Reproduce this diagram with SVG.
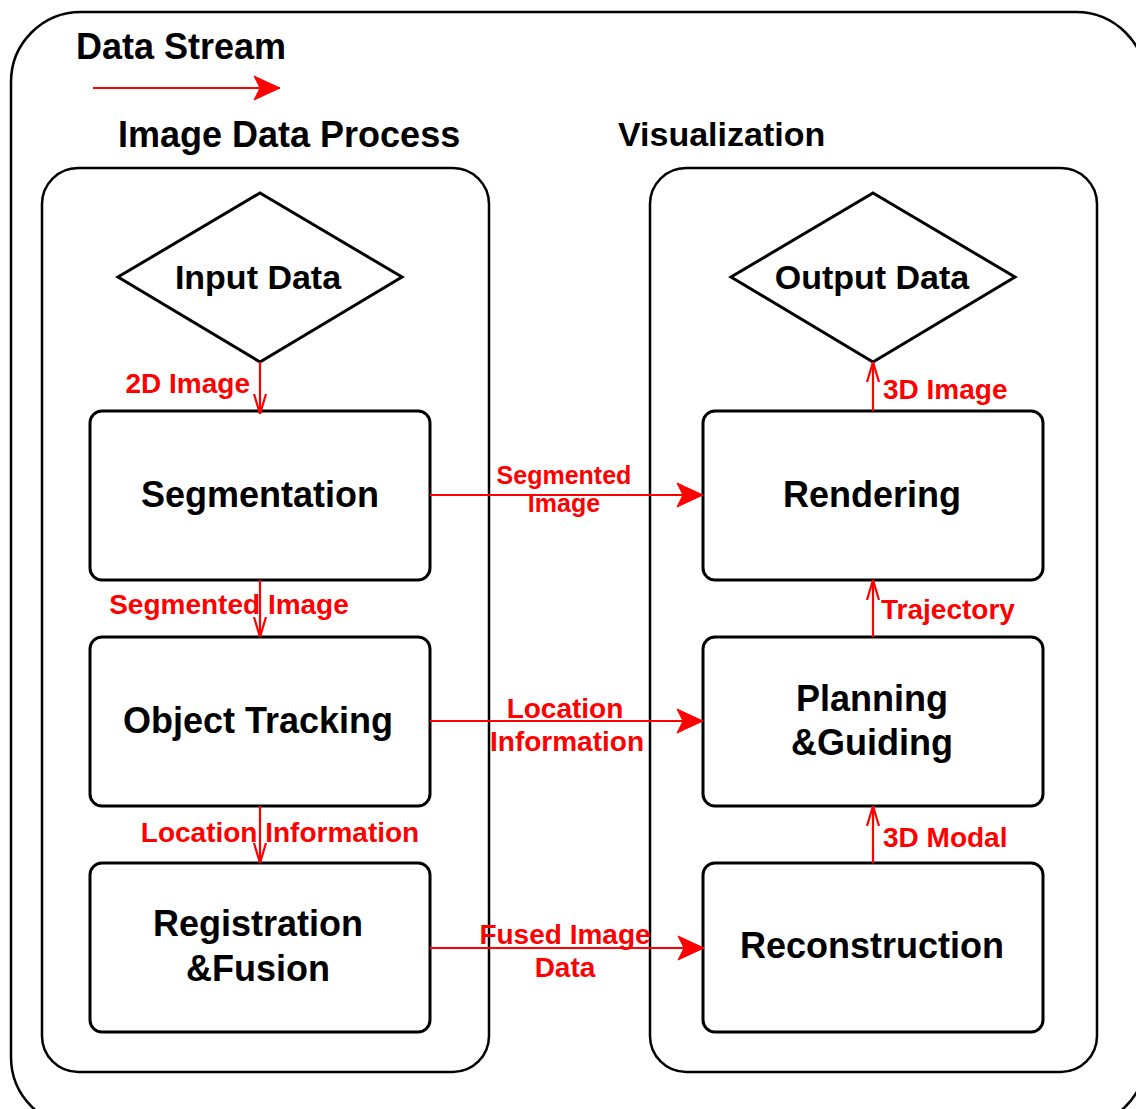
<svg xmlns="http://www.w3.org/2000/svg" width="1136" height="1109" viewBox="0 0 1136 1109">
<defs>
<style>
.box{fill:#fff;stroke:#000;stroke-width:3}
.panel{fill:none;stroke:#000;stroke-width:2.5}
.t{font-family:"Liberation Sans",Arial,Helvetica,sans-serif;font-weight:bold;fill:#000}
.n{font-size:36px;text-anchor:middle}
.d{font-size:34px;text-anchor:middle}
.h{font-size:36px}
.r{font-family:"Liberation Sans",Arial,Helvetica,sans-serif;font-weight:bold;fill:#ff0000;font-size:28px}
.c{text-anchor:middle}
.e{stroke:#ff0000;stroke-width:2.2;fill:none}
</style>
<marker id="open" markerUnits="userSpaceOnUse" markerWidth="20" markerHeight="24" viewBox="0 0 20 24" refX="20" refY="12" orient="auto">
<path d="M0,6 L20,12 L0,18" fill="none" stroke="#ff0000" stroke-width="2.2"/>
</marker>
<marker id="fill" markerUnits="userSpaceOnUse" markerWidth="28" markerHeight="26" viewBox="0 0 28 26" refX="27" refY="13" orient="auto">
<path d="M27,13 L1,1 L7,13 L1,25 Z" fill="#ff0000" stroke="#ff0000" stroke-width="1"/>
</marker>
</defs>
<rect width="1136" height="1109" fill="#fff"/>
<g id="frame">
<rect class="panel" x="11" y="12" width="1135" height="1115" rx="70"/>
</g>
<g id="legend">
<text class="t h" x="76" y="59">Data Stream</text>
<line class="e" x1="93" y1="88" x2="280" y2="88" marker-end="url(#fill)"/>
</g>
<g id="image-data-process">
<text class="t h" x="118" y="147">Image Data Process</text>
<rect class="panel" x="42" y="168" width="447" height="904" rx="36"/>
</g>
<g id="visualization">
<text class="t h" x="618" y="146" style="font-size:34px">Visualization</text>
<rect class="panel" x="650" y="168" width="447" height="904" rx="36"/>
</g>
<g id="input-data">
<polygon class="box" points="260,193 402,277 260,362 118,277"/>
<text class="t d" x="258" y="289">Input Data</text>
</g>
<g id="segmentation">
<rect class="box" x="90" y="411" width="340" height="169" rx="12"/>
<text class="t n" x="260" y="507">Segmentation</text>
</g>
<g id="object-tracking">
<rect class="box" x="90" y="637" width="340" height="169" rx="12"/>
<text class="t n" x="258" y="733">Object Tracking</text>
</g>
<g id="registration-fusion">
<rect class="box" x="90" y="863" width="340" height="169" rx="12"/>
<text class="t n" x="258" y="936">Registration</text>
<text class="t n" x="258" y="981">&amp;Fusion</text>
</g>
<g id="output-data">
<polygon class="box" points="873,193 1015,277 873,362 731,277"/>
<text class="t d" x="872" y="289">Output Data</text>
</g>
<g id="rendering">
<rect class="box" x="703" y="411" width="340" height="169" rx="12"/>
<text class="t n" x="872" y="507">Rendering</text>
</g>
<g id="planning-guiding">
<rect class="box" x="703" y="637" width="340" height="169" rx="12"/>
<text class="t n" x="872" y="711">Planning</text>
<text class="t n" x="872" y="755">&amp;Guiding</text>
</g>
<g id="reconstruction">
<rect class="box" x="703" y="863" width="340" height="169" rx="12"/>
<text class="t n" x="872" y="958">Reconstruction</text>
</g>
<g id="connectors">
<line class="e" x1="260" y1="362" x2="260" y2="414" marker-end="url(#open)"/>
<text class="r" x="250" y="393" text-anchor="end">2D Image</text>
<line class="e" x1="260" y1="580" x2="260" y2="637" marker-end="url(#open)"/>
<text class="r c" x="229" y="614">Segmented Image</text>
<line class="e" x1="260" y1="806" x2="260" y2="863" marker-end="url(#open)"/>
<text class="r c" x="280" y="842">Location Information</text>
<line class="e" x1="430" y1="495" x2="703" y2="495" marker-end="url(#fill)"/>
<text class="r c" x="564" y="484" style="font-size:25px">Segmented</text>
<text class="r c" x="564" y="512" style="font-size:25px">Image</text>
<line class="e" x1="430" y1="721" x2="703" y2="721" marker-end="url(#fill)"/>
<text class="r c" x="565" y="718">Location</text>
<text class="r c" x="567" y="751">Information</text>
<line class="e" x1="430" y1="948" x2="704" y2="948" marker-end="url(#fill)"/>
<text class="r c" x="565" y="944">Fused Image</text>
<text class="r c" x="565" y="977">Data</text>
<line class="e" x1="873" y1="411" x2="873" y2="362" marker-end="url(#open)"/>
<text class="r" x="883" y="399">3D Image</text>
<line class="e" x1="873" y1="637" x2="873" y2="580" marker-end="url(#open)"/>
<text class="r" x="881" y="619">Trajectory</text>
<line class="e" x1="873" y1="863" x2="873" y2="806" marker-end="url(#open)"/>
<text class="r" x="883" y="847">3D Modal</text>
</g>
</svg>
